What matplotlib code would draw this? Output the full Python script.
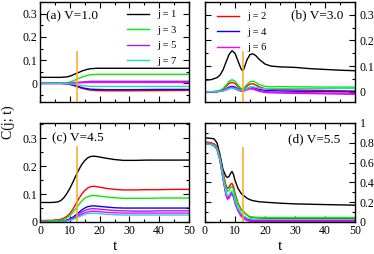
import matplotlib
matplotlib.use('Agg')
import matplotlib.pyplot as plt
from matplotlib.ticker import MultipleLocator, FuncFormatter

plt.rcParams['font.family'] = ['Liberation Serif', 'DejaVu Serif']

# dados
labels = ['j = 1', 'j = 2', 'j = 3', 'j = 4', 'j = 5', 'j = 6', 'j = 7']
cores = ['#000000', '#ff0000', '#00f000', '#0000ff', '#a020f0', '#ff00ff', '#20d8d0']

t_a = [0, 7, 9, 10, 11, 12, 13, 14, 15, 16, 17, 19, 22, 30, 40, 50]
c_a = [
    [0.026, 0.026, 0.028, 0.031, 0.036, 0.042, 0.047, 0.053, 0.057, 0.061, 0.063, 0.065, 0.065, 0.065, 0.065, 0.065],
    [0, 0, -0.002, -0.004, -0.008, -0.012, -0.017, -0.021, -0.024, -0.027, -0.029, -0.031, -0.032, -0.032, -0.031, -0.030],
    [0, 0, 0.002, 0.005, 0.010, 0.016, 0.021, 0.027, 0.031, 0.035, 0.037, 0.039, 0.039, 0.039, 0.039, 0.039],
    [0, 0, -0.002, -0.004, -0.007, -0.010, -0.014, -0.018, -0.021, -0.023, -0.025, -0.026, -0.027, -0.027, -0.026, -0.026],
    [0, 0, 0.001, 0.001, 0.002, 0.004, 0.005, 0.006, 0.007, 0.008, 0.009, 0.009, 0.009, 0.009, 0.009, 0.009],
    [0, 0, 0, 0.001, 0.001, 0.002, 0.002, 0.003, 0.003, 0.004, 0.004, 0.004, 0.004, 0.004, 0.004, 0.004],
    [0, 0, -0.001, -0.002, -0.003, -0.005, -0.007, -0.009, -0.010, -0.012, -0.012, -0.013, -0.013, -0.013, -0.013, -0.013],
]

t_b = [0, 2, 4, 5, 6, 7, 8, 9, 10, 11, 12, 12.5, 13, 14, 15, 16, 17, 18, 20, 22, 25, 30, 35, 40, 45, 50]
c_b = [
    [0.045, 0.047, 0.055, 0.065, 0.085, 0.115, 0.145, 0.160, 0.150, 0.120, 0.090, 0.082, 0.090, 0.125, 0.145, 0.148, 0.140, 0.127, 0.108, 0.100, 0.097, 0.095, 0.090, 0.087, 0.084, 0.082],
    [0, 0, 0.001, 0.004, 0.010, 0.020, 0.032, 0.037, 0.032, 0.020, 0.010, 0.008, 0.011, 0.022, 0.030, 0.031, 0.026, 0.019, 0.012, 0.010, 0.009, 0.007, 0.006, 0.005, 0.004, 0.003],
    [0, 0, 0.002, 0.005, 0.012, 0.025, 0.040, 0.047, 0.041, 0.026, 0.013, 0.010, 0.014, 0.029, 0.039, 0.041, 0.036, 0.028, 0.021, 0.019, 0.020, 0.019, 0.019, 0.018, 0.018, 0.018],
    [0, 0, 0.001, 0.002, 0.005, 0.011, 0.018, 0.021, 0.018, 0.011, 0.005, 0.004, 0.006, 0.012, 0.017, 0.017, 0.013, 0.009, 0.005, 0.004, 0.003, 0.002, 0.001, 0.001, 0.000, 0.000],
    [0, 0, 0, 0.001, 0.003, 0.007, 0.012, 0.014, 0.011, 0.006, 0.002, 0.001, 0.003, 0.008, 0.011, 0.010, 0.006, 0.002, -0.003, -0.004, -0.005, -0.006, -0.007, -0.008, -0.009, -0.010],
    [0, 0, 0, 0.002, 0.004, 0.009, 0.014, 0.017, 0.014, 0.008, 0.003, 0.002, 0.004, 0.010, 0.014, 0.013, 0.009, 0.005, 0.001, -0.001, -0.002, -0.003, -0.004, -0.005, -0.006, -0.006],
    [0, 0, 0.001, 0.002, 0.004, 0.008, 0.012, 0.014, 0.012, 0.008, 0.005, 0.005, 0.007, 0.013, 0.018, 0.019, 0.017, 0.014, 0.012, 0.012, 0.012, 0.012, 0.013, 0.013, 0.013, 0.013],
]

t_c = [0, 4, 6, 7, 8, 9, 10, 11, 12, 13, 14, 15, 16, 17, 18, 19, 20, 22, 25, 28, 32, 36, 40, 45, 50]
c_c = [
    [0.070, 0.070, 0.072, 0.077, 0.087, 0.102, 0.120, 0.142, 0.165, 0.187, 0.206, 0.220, 0.230, 0.235, 0.236, 0.235, 0.233, 0.229, 0.224, 0.221, 0.221, 0.222, 0.222, 0.222, 0.222],
    [0.005, 0.006, 0.008, 0.010, 0.014, 0.020, 0.030, 0.045, 0.064, 0.083, 0.100, 0.113, 0.122, 0.127, 0.128, 0.127, 0.125, 0.121, 0.117, 0.115, 0.115, 0.116, 0.116, 0.117, 0.117],
    [0.003, 0.004, 0.005, 0.007, 0.010, 0.015, 0.023, 0.034, 0.048, 0.062, 0.075, 0.085, 0.091, 0.094, 0.095, 0.094, 0.093, 0.090, 0.087, 0.085, 0.085, 0.085, 0.086, 0.086, 0.086],
    [0, 0, 0.001, 0.002, 0.004, 0.007, 0.011, 0.017, 0.025, 0.034, 0.043, 0.050, 0.055, 0.057, 0.058, 0.057, 0.056, 0.054, 0.051, 0.050, 0.050, 0.050, 0.050, 0.050, 0.050],
    [0, 0, 0.001, 0.002, 0.003, 0.005, 0.009, 0.014, 0.020, 0.028, 0.035, 0.041, 0.045, 0.047, 0.048, 0.047, 0.046, 0.044, 0.041, 0.040, 0.039, 0.039, 0.040, 0.040, 0.040],
    [0, 0, 0, 0.001, 0.002, 0.004, 0.007, 0.011, 0.016, 0.022, 0.028, 0.033, 0.036, 0.038, 0.039, 0.038, 0.037, 0.035, 0.033, 0.032, 0.032, 0.032, 0.032, 0.032, 0.032],
    [0, 0, 0, 0.001, 0.002, 0.003, 0.005, 0.009, 0.013, 0.018, 0.023, 0.027, 0.030, 0.031, 0.032, 0.031, 0.030, 0.028, 0.026, 0.025, 0.025, 0.025, 0.025, 0.025, 0.025],
]

t_d = [0, 2, 3, 4, 5, 6, 7, 7.5, 8, 8.5, 9, 9.5, 10, 11, 12, 13, 14, 15, 16, 18, 20, 25, 30, 40, 50]
c_d = [
    [0.850, 0.845, 0.840, 0.800, 0.680, 0.530, 0.460, 0.450, 0.460, 0.490, 0.510, 0.480, 0.420, 0.340, 0.290, 0.265, 0.240, 0.225, 0.215, 0.205, 0.200, 0.190, 0.183, 0.176, 0.170],
    [0.810, 0.800, 0.790, 0.760, 0.660, 0.500, 0.370, 0.340, 0.350, 0.380, 0.390, 0.360, 0.290, 0.190, 0.130, 0.100, 0.070, 0.050, 0.045, 0.040, 0.038, 0.036, 0.035, 0.035, 0.035],
    [0.800, 0.790, 0.780, 0.750, 0.650, 0.480, 0.340, 0.310, 0.320, 0.350, 0.360, 0.330, 0.270, 0.180, 0.120, 0.095, 0.070, 0.055, 0.050, 0.047, 0.045, 0.045, 0.045, 0.045, 0.045],
    [0.790, 0.785, 0.775, 0.740, 0.630, 0.450, 0.290, 0.250, 0.260, 0.290, 0.300, 0.270, 0.210, 0.130, 0.080, 0.050, 0.035, 0.025, 0.020, 0.017, 0.016, 0.015, 0.015, 0.015, 0.015],
    [0.790, 0.785, 0.770, 0.735, 0.620, 0.440, 0.270, 0.230, 0.240, 0.270, 0.280, 0.250, 0.190, 0.110, 0.060, 0.030, 0.015, 0.008, 0.005, 0.004, 0.003, 0.003, 0.003, 0.003, 0.003],
    [0.790, 0.785, 0.770, 0.735, 0.620, 0.440, 0.280, 0.240, 0.250, 0.280, 0.290, 0.260, 0.200, 0.120, 0.070, 0.040, 0.025, 0.015, 0.012, 0.011, 0.010, 0.010, 0.010, 0.010, 0.010],
    [0.790, 0.785, 0.775, 0.740, 0.630, 0.460, 0.300, 0.260, 0.270, 0.300, 0.310, 0.280, 0.220, 0.140, 0.090, 0.060, 0.040, 0.032, 0.028, 0.026, 0.025, 0.025, 0.025, 0.025, 0.025],
]

titulos = ['(a) V=1.0', '(b) V=3.0', '(c) V=4.5', '(d) V=5.5']
t_marca = 12.5
topo_marca = [0.135, 0.155, 0.27, 0.75]

W, H = 374, 254
fig = plt.figure(figsize=(W / 100, H / 100), dpi=100)

def caixa(x0, x1, y0, y1):
    return [x0 / W, 1 - y1 / H, (x1 - x0) / W, (y1 - y0) / H]

ax_a = fig.add_axes(caixa(40, 189, 2, 102))
ax_b = fig.add_axes(caixa(205, 355, 2, 102))
ax_c = fig.add_axes(caixa(40, 189, 123, 222))
ax_d = fig.add_axes(caixa(205, 355, 123, 222))

paineis = [
    (ax_a, t_a, c_a, (-0.08, 0.35), 0.1, 0.05),
    (ax_b, t_b, c_b, (-0.04, 0.35), 0.1, 0.05),
    (ax_c, t_c, c_c, (0, 0.355), 0.1, 0.05),
    (ax_d, t_d, c_d, (0, 1.0), 0.2, 0.1),
]

fmt = FuncFormatter(lambda v, p: '%g' % round(v, 3))

for i, (ax, t, curvas, ylim, maj, mnr) in enumerate(paineis):
    for k, y in enumerate(curvas):
        ax.plot(t, y, color=cores[k], lw=1.0, label=labels[k])
    ax.plot([t_marca, t_marca], [ylim[0], topo_marca[i]], color='#ffa520', lw=1.1)
    ax.set_xlim(0, 50)
    ax.set_ylim(*ylim)
    ax.xaxis.set_major_locator(MultipleLocator(10))
    ax.xaxis.set_minor_locator(MultipleLocator(5))
    ax.yaxis.set_major_locator(MultipleLocator(maj))
    ax.yaxis.set_minor_locator(MultipleLocator(mnr))
    ax.yaxis.set_major_formatter(fmt)
    ax.tick_params(which='both', direction='in', top=True, right=True, labelsize=8.5, pad=2, width=0.8)
    ax.tick_params(which='major', length=4)
    ax.tick_params(which='minor', length=2)
    for s in ax.spines.values():
        s.set_linewidth(1.0)
    if i < 2:
        ax.tick_params(labelbottom=False)
    if i % 2 == 1:
        ax.tick_params(labelleft=False, labelright=True)
        ax.tick_params(axis='y', pad=3.5)

# legendas
h_a, l_a = ax_a.get_legend_handles_labels()
ax_a.legend([h_a[0], h_a[2], h_a[4], h_a[6]], [l_a[0], l_a[2], l_a[4], l_a[6]],
            loc='upper left', bbox_to_anchor=(0.585, 0.92), frameon=False, fontsize=7.5,
            handlelength=2.1, handletextpad=0.8, labelspacing=0.6, borderpad=0, borderaxespad=0)
h_b, l_b = ax_b.get_legend_handles_labels()
ax_b.legend([h_b[1], h_b[3], h_b[5]], [l_b[1], l_b[3], l_b[5]],
            loc='upper left', bbox_to_anchor=(0.08, 0.9), frameon=False, fontsize=7.5,
            handlelength=2.1, handletextpad=0.8, labelspacing=0.6, borderpad=0, borderaxespad=0)

ax_a.text(0.04, 0.86, titulos[0], transform=ax_a.transAxes, fontsize=9.5, va='center', ha='left')
ax_b.text(0.925, 0.87, titulos[1], transform=ax_b.transAxes, fontsize=9.5, va='center', ha='right')
ax_c.text(0.08, 0.85, titulos[2], transform=ax_c.transAxes, fontsize=9.5, va='center', ha='left')
ax_d.text(0.905, 0.84, titulos[3], transform=ax_d.transAxes, fontsize=9.5, va='center', ha='right')

ax_c.set_xlabel('t', fontsize=11, labelpad=2)
ax_d.set_xlabel('t', fontsize=11, labelpad=2)
fig.text(8 / W, 1 - 122 / H, 'C(j; t)', rotation=90, fontsize=10, va='center', ha='center')

fig.savefig('out.png', dpi=100)
